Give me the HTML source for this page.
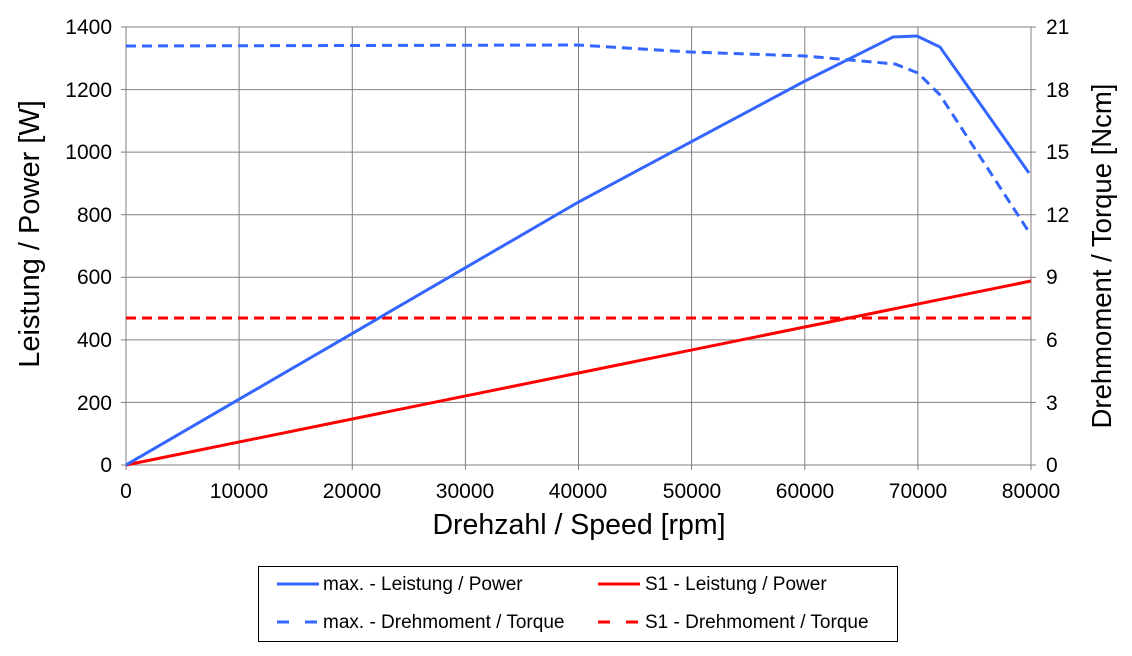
<!DOCTYPE html>
<html><head><meta charset="utf-8"><style>body{margin:0;background:#fff}svg text{font-family:"Liberation Sans",Arial,sans-serif;fill:#000}</style></head><body>
<svg width="1132" height="651" xmlns="http://www.w3.org/2000/svg">
<g stroke="#808080" stroke-width="1">
<line x1="126" y1="27" x2="1031" y2="27"/><line x1="126" y1="89.6" x2="1031" y2="89.6"/><line x1="126" y1="152.1" x2="1031" y2="152.1"/><line x1="126" y1="214.7" x2="1031" y2="214.7"/><line x1="126" y1="277.3" x2="1031" y2="277.3"/><line x1="126" y1="339.9" x2="1031" y2="339.9"/><line x1="126" y1="402.4" x2="1031" y2="402.4"/><line x1="126" y1="465" x2="1031" y2="465"/>
<line x1="126" y1="27" x2="126" y2="470"/><line x1="239.1" y1="27" x2="239.1" y2="470"/><line x1="352.3" y1="27" x2="352.3" y2="470"/><line x1="465.4" y1="27" x2="465.4" y2="470"/><line x1="578.5" y1="27" x2="578.5" y2="470"/><line x1="691.6" y1="27" x2="691.6" y2="470"/><line x1="804.8" y1="27" x2="804.8" y2="470"/><line x1="917.9" y1="27" x2="917.9" y2="470"/><line x1="1031" y1="27" x2="1031" y2="470"/>
<line x1="121" y1="27" x2="126" y2="27"/><line x1="121" y1="89.6" x2="126" y2="89.6"/><line x1="121" y1="152.1" x2="126" y2="152.1"/><line x1="121" y1="214.7" x2="126" y2="214.7"/><line x1="121" y1="277.3" x2="126" y2="277.3"/><line x1="121" y1="339.9" x2="126" y2="339.9"/><line x1="121" y1="402.4" x2="126" y2="402.4"/><line x1="121" y1="465" x2="126" y2="465"/>
<line x1="1031" y1="27" x2="1036" y2="27"/><line x1="1031" y1="89.6" x2="1036" y2="89.6"/><line x1="1031" y1="152.1" x2="1036" y2="152.1"/><line x1="1031" y1="214.7" x2="1036" y2="214.7"/><line x1="1031" y1="277.3" x2="1036" y2="277.3"/><line x1="1031" y1="339.9" x2="1036" y2="339.9"/><line x1="1031" y1="402.4" x2="1036" y2="402.4"/><line x1="1031" y1="465" x2="1036" y2="465"/>
</g>
<g font-size="21" text-anchor="end">
<text x="112" y="34">1400</text><text x="112" y="97">1200</text><text x="112" y="159">1000</text><text x="112" y="222">800</text><text x="112" y="284">600</text><text x="112" y="347">400</text><text x="112" y="410">200</text><text x="112" y="472">0</text>
</g>
<g font-size="21" text-anchor="start">
<text x="1046" y="34">21</text><text x="1046" y="97">18</text><text x="1046" y="159">15</text><text x="1046" y="222">12</text><text x="1046" y="284">9</text><text x="1046" y="347">6</text><text x="1046" y="410">3</text><text x="1046" y="472">0</text>
</g>
<g font-size="21" text-anchor="middle">
<text x="126" y="498">0</text><text x="239" y="498">10000</text><text x="352" y="498">20000</text><text x="465" y="498">30000</text><text x="578" y="498">40000</text><text x="692" y="498">50000</text><text x="805" y="498">60000</text><text x="918" y="498">70000</text><text x="1031" y="498">80000</text>
</g>
<text x="579" y="534" font-size="28.5" text-anchor="middle">Drehzahl / Speed [rpm]</text>
<text transform="translate(39,234) rotate(-90)" font-size="29" text-anchor="middle">Leistung / Power [W]</text>
<text transform="translate(1111,256) rotate(-90)" font-size="27.5" text-anchor="middle">Drehmoment / Torque [Ncm]</text>
<g fill="none" stroke-width="3">
<polyline stroke="#ff0000" points="126,465 1031,281"/>
<line stroke="#ff0000" stroke-dasharray="10,6" x1="126" y1="318" x2="1031" y2="318"/>
<polyline stroke="#3366ff" points="126,465 578.5,202 805,81 893,37 917,36 940,47 1029,173"/>
<polyline stroke="#3366ff" stroke-dasharray="10,6" points="126,46 578,45 690,52 805,56 895,64 918,73 940,95 1029,232"/>
</g>
<rect x="258.5" y="566.5" width="639" height="75" fill="none" stroke="#000" stroke-width="1"/>
<g stroke-width="3">
<line x1="277" y1="584" x2="319" y2="584" stroke="#3366ff"/>
<line x1="277" y1="622" x2="319" y2="622" stroke="#3366ff" stroke-dasharray="12,16"/>
<line x1="598" y1="584" x2="640" y2="584" stroke="#ff0000"/>
<line x1="598" y1="622" x2="640" y2="622" stroke="#ff0000" stroke-dasharray="12,16"/>
</g>
<g font-size="19">
<text x="323" y="590">max. - Leistung / Power</text>
<text x="323" y="628">max. - Drehmoment / Torque</text>
<text x="645" y="590">S1 - Leistung / Power</text>
<text x="645" y="628">S1 - Drehmoment / Torque</text>
</g>
</svg>
</body></html>
